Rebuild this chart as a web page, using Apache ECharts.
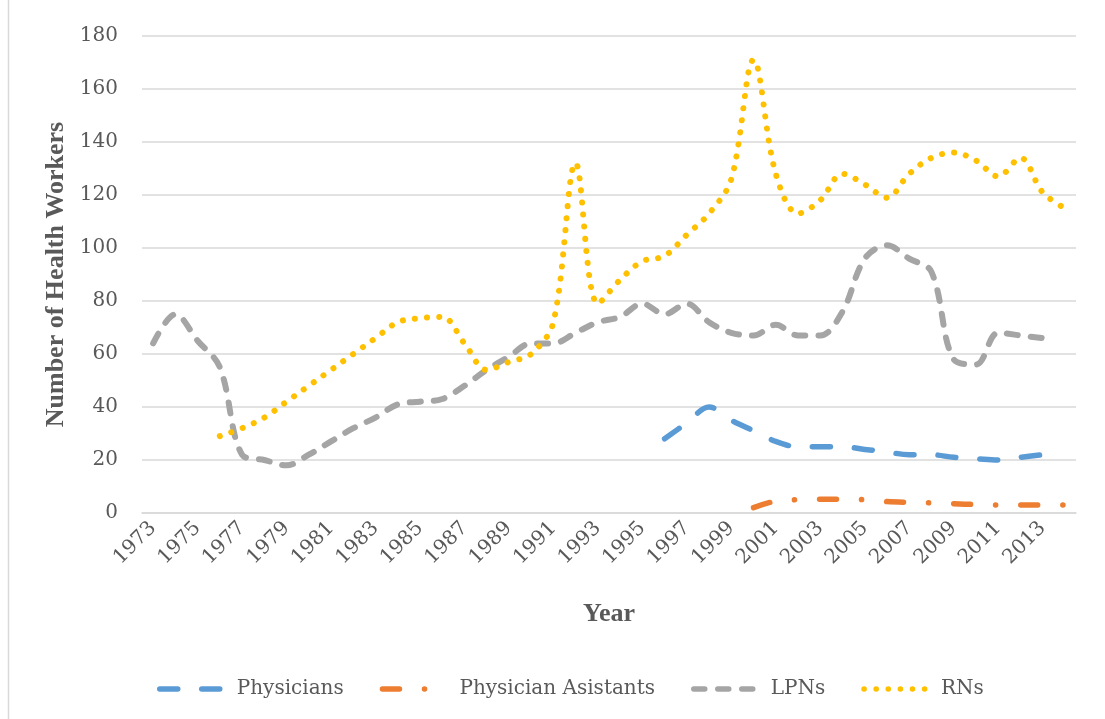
<!DOCTYPE html>
<html>
<head>
<meta charset="utf-8">
<title>Health Workers</title>
<script src="https://cdn.jsdelivr.net/npm/echarts@6/dist/echarts.min.js"></script>
<style>
  html, body { margin: 0; padding: 0; background: #fff; }
  #chart { width: 1105px; height: 719px; }
</style>
</head>
<body>
<div id="chart"></div>
<script>
const years = [];
for (let y = 1973; y <= 2014; y++) years.push(String(y));

// values, null = no data that year
const physicians = [
  null, null, null, null, null, null, null, null, null, null,
  null, null, null, null, null, null, null, null, null, null,
  null, null, null, 28, 34, 40, 35, 31, 27, 25,
  25, 25, 24, 23, 22, 22, 21, 20.5, 20, 21,
  22, null
];
const physicianAssistants = [
  null, null, null, null, null, null, null, null, null, null,
  null, null, null, null, null, null, null, null, null, null,
  null, null, null, null, null, null, null, 2, 4.5, 5,
  5.2, 5.2, 5, 4.3, 4, 3.8, 3.5, 3.2, 3, 3,
  3, 3
];
const lpns = [
  64, 75, 65, 55, 22, 20, 18, 22, 27, 32,
  36, 41, 42, 43, 48, 54, 59, 64, 64, 68,
  72, 74, 79, 75, 79, 72, 68, 67, 71, 67,
  67, 76, 96, 101, 96, 91, 58, 56, 68, 67,
  66, null
];
const rns = [
  null, null, null, 29, 32, 36, 42, 48, 54, 60,
  66, 72, 73.5, 74, 64, 54, 57, 60, 72, 132,
  79, 88, 95, 97, 105, 113, 126, 171, 128, 113,
  118, 128, 124, 119, 128, 134, 136, 133, 127, 134,
  121, 115
];

const serif = 'DejaVu Serif';
const titleFont = 'Liberation Serif';
const grey = '#595959';

const dom = document.getElementById('chart');
const myChart = echarts.init(dom);

function lineSeries(name, data, color, width, dash) {
  return {
    name: name,
    type: 'line',
    data: data,
    smooth: 0.35,
    symbol: 'none',
    connectNulls: false,
    color: color,
    lineStyle: { color: color, width: width, type: dash, cap: 'round', join: 'round' }
  };
}

const option = {
  animation: false,
  grid: { left: 142, right: 29, top: 36, bottom: 206 },
  graphic: [
    { type: 'line', shape: { x1: 8.5, y1: 0, x2: 8.5, y2: 719 }, style: { stroke: '#d9d9d9', lineWidth: 1.5 } }
  ],
  legend: {
    left: 152,
    top: 674,
    itemWidth: 62,
    itemHeight: 14,
    itemGap: 36,
    itemStyle: { opacity: 0 },
    lineStyle: { width: 5.5, cap: 'round' },
    textStyle: { fontFamily: serif, fontSize: 20, color: grey, padding: [0, 0, 0, 10] },
    data: ['Physicians', 'Physician Asistants', 'LPNs', 'RNs']
  },
  xAxis: {
    type: 'category',
    data: years,
    boundaryGap: true,
    name: 'Year',
    nameLocation: 'middle',
    nameGap: 88,
    nameTextStyle: { fontFamily: titleFont, fontWeight: 'bold', fontSize: 26, color: grey },
    axisLine: { lineStyle: { color: '#d9d9d9', width: 1.5 } },
    axisTick: { show: false },
    axisLabel: {
      interval: 1,
      rotate: 45,
      margin: 12,
      fontFamily: serif,
      fontSize: 20,
      color: grey
    }
  },
  yAxis: {
    type: 'value',
    min: 0,
    max: 180,
    interval: 20,
    name: 'Number of Health Workers',
    nameLocation: 'middle',
    nameGap: 71,
    nameTextStyle: { fontFamily: titleFont, fontWeight: 'bold', fontSize: 26, color: grey },
    axisLine: { show: false },
    axisTick: { show: false },
    axisLabel: { margin: 24, fontFamily: serif, fontSize: 20, color: grey },
    splitLine: { lineStyle: { color: '#d9d9d9', width: 1.5 } }
  },
  series: [
    lineSeries('Physicians', physicians, '#5B9BD5', 5.5, [18, 24]),
    lineSeries('Physician Asistants', physicianAssistants, '#ED7D31', 5.5, [17, 25, 0.1, 25]),
    lineSeries('LPNs', lpns, '#A5A5A5', 6, [11, 13]),
    lineSeries('RNs', rns, '#FFC000', 6, [0.1, 12])
  ]
};

myChart.setOption(option);
window.addEventListener('resize', function () {
  myChart.resize();
});
</script>
</body>
</html>
